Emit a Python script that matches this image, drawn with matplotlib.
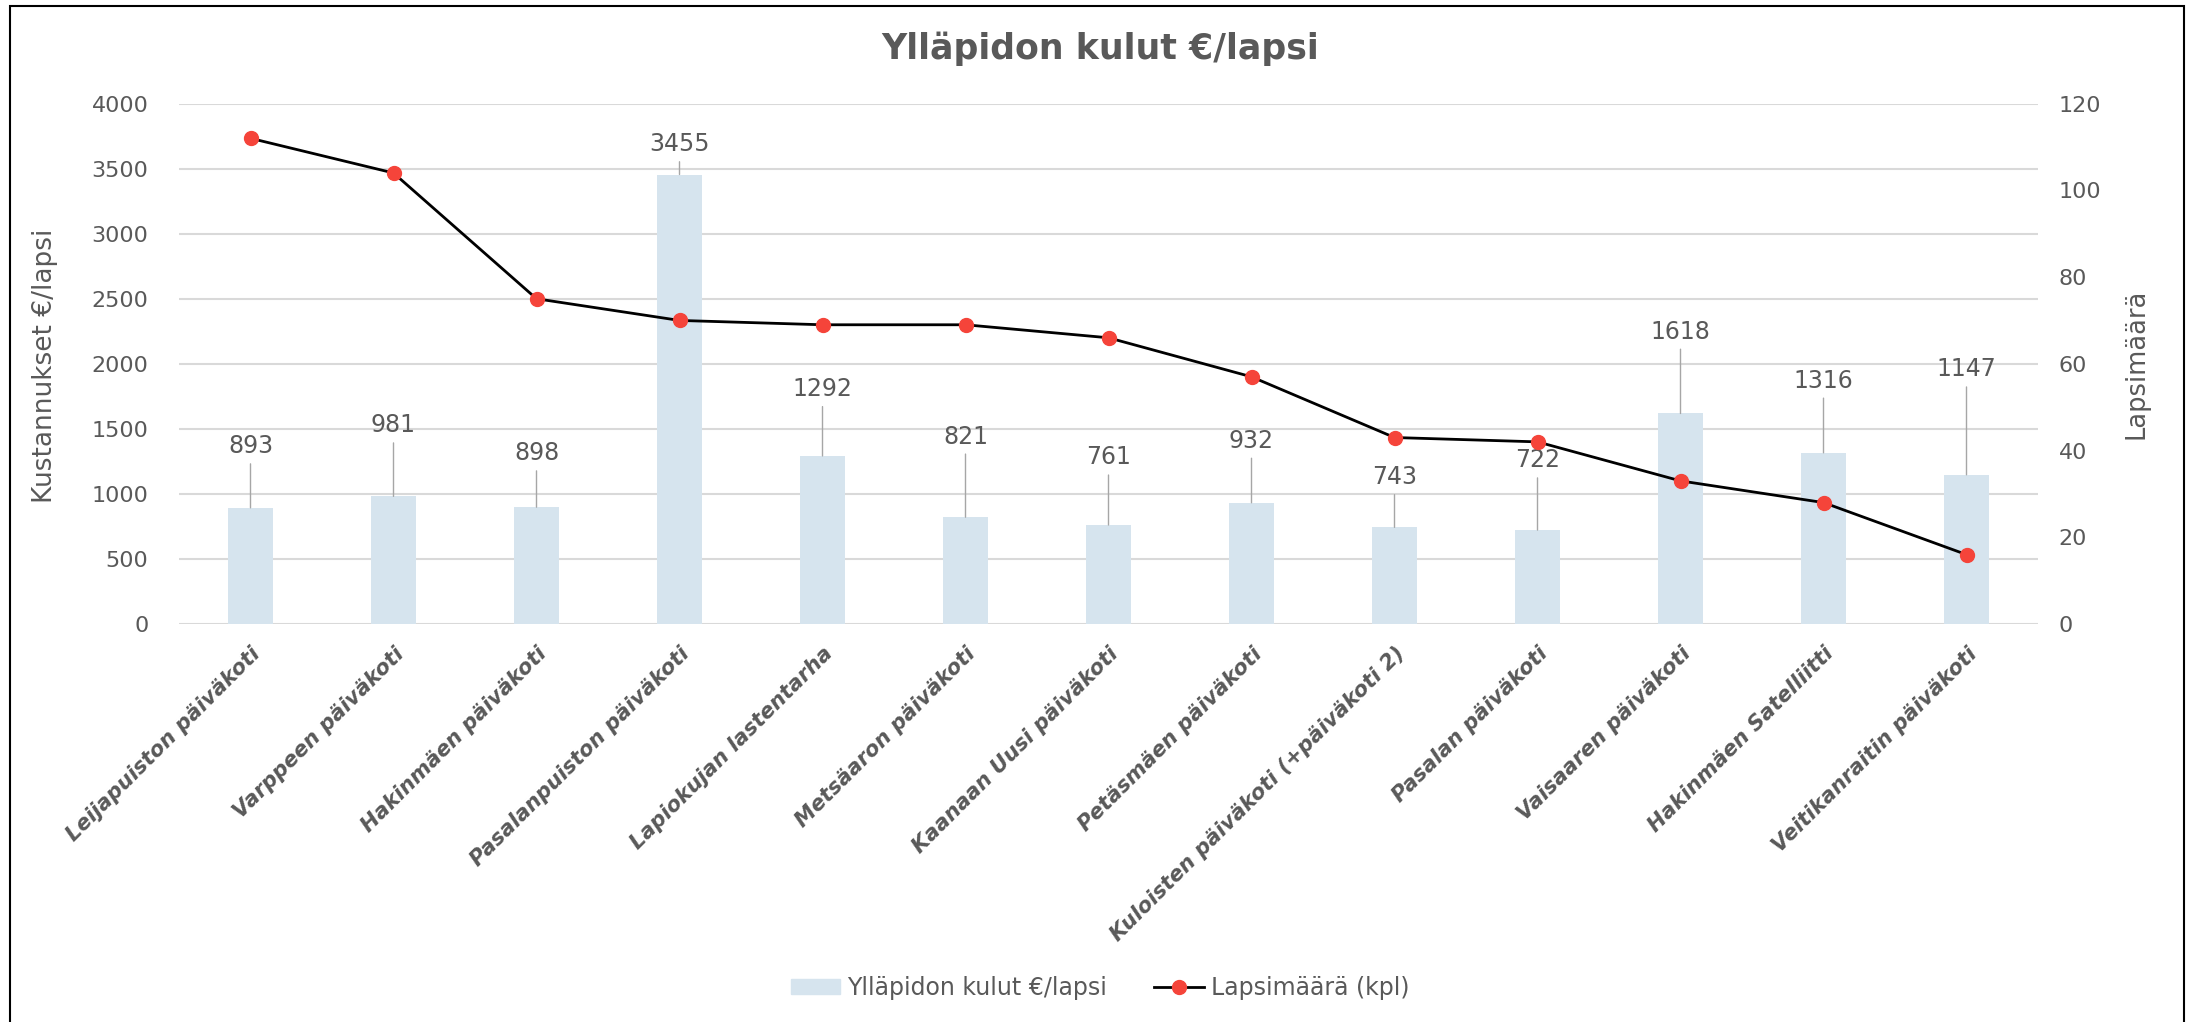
import matplotlib
matplotlib.use("Agg")
import matplotlib.pyplot as plt
from matplotlib.patches import Rectangle
from matplotlib.lines import Line2D

# ---- data ----
categories = [
    "Leijapuiston päiväkoti", "Varppeen päiväkoti", "Hakinmäen päiväkoti",
    "Pasalanpuiston päiväkoti", "Lapiokujan lastentarha", "Metsäaron päiväkoti",
    "Kaanaan Uusi päiväkoti", "Petäsmäen päiväkoti", "Kuloisten päiväkoti (+päiväkoti 2)",
    "Pasalan päiväkoti", "Vaisaaren päiväkoti", "Hakinmäen Satelliitti",
    "Veitikanraitin päiväkoti",
]
costs = [893, 981, 898, 3455, 1292, 821, 761, 932, 743, 722, 1618, 1316, 1147]
children = [112, 104, 75, 70, 69, 69, 66, 57, 43, 42, 33, 28, 16]
left_ticks = [0, 500, 1000, 1500, 2000, 2500, 3000, 3500, 4000]
right_ticks = [0, 20, 40, 60, 80, 100, 120]

title = "Ylläpidon kulut €/lapsi"
ylabel_left = "Kustannukset €/lapsi"
ylabel_right = "Lapsimäärä"
legend_bar = "Ylläpidon kulut €/lapsi"
legend_line = "Lapsimäärä (kpl)"

# label placement (layout only, in cost-axis units)
label_y = [1366, 1527, 1312, 3688, 1806, 1441, 1280, 1409, 1129, 1258, 2247, 1871, 1957]

# ---- style ----
TXT = "#595959"
BAR = "#D6E4EE"
GRID = "#D9D9D9"
RED = "#F5443A"
FONT = "DejaVu Sans"

W, H = 2200, 1022
fig = plt.figure(figsize=(W / 100, H / 100), dpi=100)
ax = fig.add_axes([179 / W, 1 - 624 / H, (2038 - 179) / W, (624 - 103.6) / H])
ax2 = ax.twinx()

x = list(range(len(categories)))
ax.bar(x, costs, width=0.31, color=BAR, zorder=2)
ax.set_xlim(-0.5, len(categories) - 0.5)
ax.set_ylim(0, 4000)
ax.set_yticks(left_ticks)
ax.yaxis.grid(True, color=GRID, linewidth=1.5, zorder=0)
ax.set_axisbelow(True)
for s in ax.spines.values():
    s.set_visible(False)
for s in ax2.spines.values():
    s.set_visible(False)
ax.tick_params(axis="both", length=0)
ax.tick_params(axis="y", labelsize=16, labelcolor=TXT, pad=22)
for t in ax.get_yticklabels():
    t.set_fontfamily(FONT)

ax.set_xticks(x)
ax.set_xticklabels(categories, rotation=45, ha="right", va="top",
                   rotation_mode="anchor", fontsize=15.3, fontweight="bold",
                   fontstyle="italic", color=TXT, family="DejaVu Sans")
ax.tick_params(axis="x", pad=14)

for i, (v, ly) in enumerate(zip(costs, label_y)):
    ax.annotate(str(v), xy=(i, v), xytext=(i, ly), textcoords="data",
                ha="center", va="center", fontsize=17, color=TXT, family=FONT,
                arrowprops=dict(arrowstyle="-", color="#A6A6A6", lw=1,
                                shrinkA=2, shrinkB=0), zorder=5)

ax2.plot(x, children, color="black", linewidth=2, marker="o",
         markersize=10, markerfacecolor=RED, markeredgecolor=RED, zorder=4)
ax2.set_ylim(0, 120)
ax2.set_yticks(right_ticks)
ax2.tick_params(axis="y", length=0, labelsize=16, labelcolor=TXT, pad=15)
for t in ax2.get_yticklabels():
    t.set_fontfamily(FONT)

fig.text(45 / W, 1 - 366 / H, ylabel_left, rotation=90, ha="center", va="center",
         fontsize=19, color=TXT, family=FONT)
fig.text(2137 / W, 1 - 364 / H, ylabel_right, rotation=90, ha="center", va="center",
         fontsize=18.5, color=TXT, family=FONT)

fig.text(0.5, 1 - 49 / H, title, ha="center", va="center", fontsize=25,
         fontweight="bold", color=TXT, family=FONT)

handles = [Rectangle((0, 0), 1, 1, color=BAR),
           Line2D([0], [0], color="black", lw=2, marker="o", markersize=10,
                  markerfacecolor=RED, markeredgecolor=RED)]
fig.legend(handles, [legend_bar, legend_line], loc="center",
           bbox_to_anchor=(0.5, 1 - 988 / H), ncol=2, frameon=False,
           prop={"family": FONT, "size": 17}, labelcolor=TXT,
           handlelength=2.1, handleheight=0.6, columnspacing=2.0,
           handletextpad=0.3)

fig.add_artist(Rectangle((10 / W, -0.01), (2184 - 10) / W, 1 - 6 / H + 0.01,
                         transform=fig.transFigure, fill=False,
                         edgecolor="black", linewidth=1.5))

fig.savefig("out.png", dpi=100)
